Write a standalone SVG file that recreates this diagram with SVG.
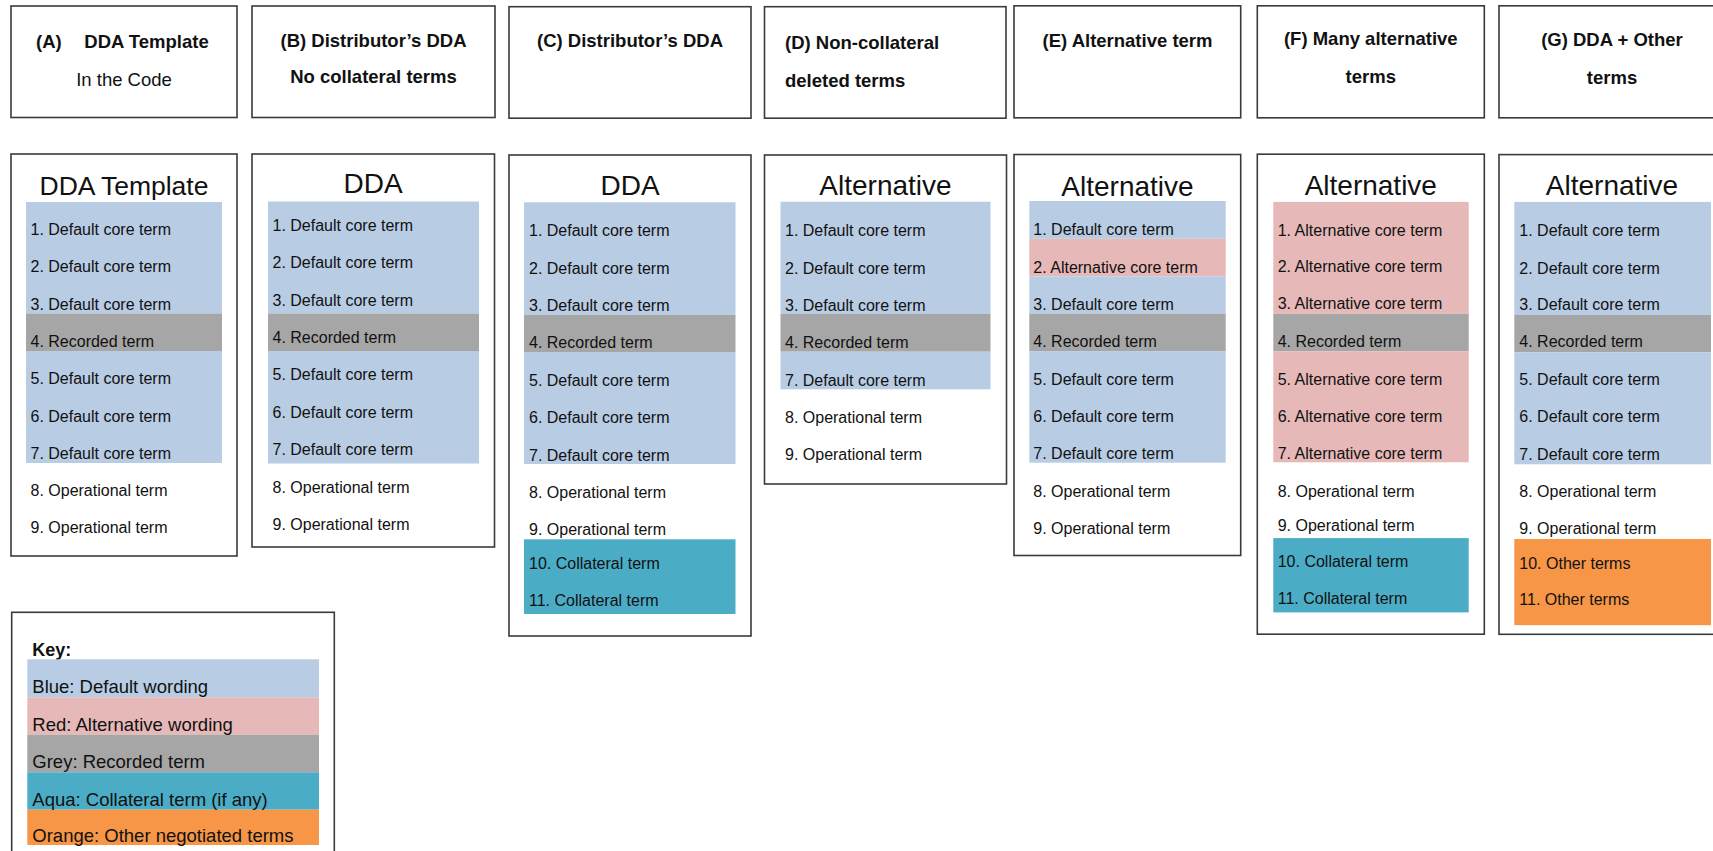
<svg xmlns="http://www.w3.org/2000/svg" width="1713" height="851" viewBox="0 0 1713 851">
  <style>
    .box { fill: #ffffff; stroke: #3a3a3a; stroke-width: 1.6; }
    .blue { fill: #b8cce4; }
    .red { fill: #e6b8b7; }
    .grey { fill: #a6a6a6; }
    .aqua { fill: #4bacc6; }
    .orange { fill: #f79646; }
    text { font-family: "Liberation Sans", Arial, sans-serif; fill: #111111; }
    .hd { font-size: 18.5px; font-weight: bold; }
    .hdr { font-size: 18.5px; }
    .ttl { font-size: 28px; text-anchor: middle; }
    .row { font-size: 16px; }
    .key { font-size: 18.5px; }
    .mid { text-anchor: middle; }
  </style>

  <!-- Header captions -->
  <g id="header-a">
    <rect class="box" x="11" y="6" width="226" height="111.5"/>
    <text class="hd" x="36" y="48.3">(A)</text>
    <text class="hd" x="84.3" y="48.3">DDA Template</text>
    <text class="hdr mid" x="124" y="86">In the Code</text>
  </g>
  <g id="header-b">
    <rect class="box" x="252" y="6" width="243" height="111.5"/>
    <text class="hd mid" x="373.5" y="46.7">(B) Distributor’s DDA</text>
    <text class="hd mid" x="373.5" y="82.5">No collateral terms</text>
  </g>
  <g id="header-c">
    <rect class="box" x="509" y="6.7" width="242" height="111.5"/>
    <text class="hd mid" x="630" y="46.7">(C) Distributor’s DDA</text>
  </g>
  <g id="header-d">
    <rect class="box" x="764.5" y="6.7" width="241.5" height="111.5"/>
    <text class="hd" x="785" y="49.3">(D) Non-collateral</text>
    <text class="hd" x="785" y="87.3">deleted terms</text>
  </g>
  <g id="header-e">
    <rect class="box" x="1014" y="5.8" width="226.7" height="112"/>
    <text class="hd mid" x="1127.5" y="46.5">(E) Alternative term</text>
  </g>
  <g id="header-f">
    <rect class="box" x="1257.3" y="5.8" width="227" height="112"/>
    <text class="hd mid" x="1370.8" y="44.8">(F) Many alternative</text>
    <text class="hd mid" x="1370.8" y="82.9">terms</text>
  </g>
  <g id="header-g">
    <rect class="box" x="1499" y="5.8" width="226" height="112"/>
    <text class="hd mid" x="1612" y="45.6">(G) DDA + Other</text>
    <text class="hd mid" x="1612" y="84.2">terms</text>
  </g>

  <!-- A: template -->
  <g id="panel-a">
    <rect class="box" x="11" y="154" width="226" height="402"/>
    <text class="ttl" x="124" y="195" style="font-size:26.5px">DDA Template</text>
    <rect class="blue" x="26" y="202" width="196" height="111.5"/>
    <rect class="grey" x="26" y="313.5" width="196" height="37.5"/>
    <rect class="blue" x="26" y="351" width="196" height="112"/>
    <text class="row" x="30.5" y="235">1. Default core term</text>
    <text class="row" x="30.5" y="272.3">2. Default core term</text>
    <text class="row" x="30.5" y="309.6">3. Default core term</text>
    <text class="row" x="30.5" y="346.9">4. Recorded term</text>
    <text class="row" x="30.5" y="384.2">5. Default core term</text>
    <text class="row" x="30.5" y="421.5">6. Default core term</text>
    <text class="row" x="30.5" y="458.8">7. Default core term</text>
    <text class="row" x="30.5" y="496.1">8. Operational term</text>
    <text class="row" x="30.5" y="533.4">9. Operational term</text>
  </g>

  <!-- B: distributor's DDA without collateral terms -->
  <g id="panel-b">
    <rect class="box" x="252" y="154" width="242.5" height="393"/>
    <text class="ttl" x="373" y="193">DDA</text>
    <rect class="blue" x="268" y="201.5" width="211" height="112"/>
    <rect class="grey" x="268" y="313.5" width="211" height="37.5"/>
    <rect class="blue" x="268" y="351" width="211" height="112.5"/>
    <text class="row" x="272.5" y="230.7">1. Default core term</text>
    <text class="row" x="272.5" y="268.1">2. Default core term</text>
    <text class="row" x="272.5" y="305.5">3. Default core term</text>
    <text class="row" x="272.5" y="342.9">4. Recorded term</text>
    <text class="row" x="272.5" y="380.3">5. Default core term</text>
    <text class="row" x="272.5" y="417.7">6. Default core term</text>
    <text class="row" x="272.5" y="455.1">7. Default core term</text>
    <text class="row" x="272.5" y="492.5">8. Operational term</text>
    <text class="row" x="272.5" y="529.9">9. Operational term</text>
  </g>

  <!-- C: distributor's DDA with collateral terms -->
  <g id="panel-c">
    <rect class="box" x="509" y="155" width="242" height="481"/>
    <text class="ttl" x="630" y="195">DDA</text>
    <rect class="blue" x="524" y="202.3" width="211.5" height="112.7"/>
    <rect class="grey" x="524" y="315" width="211.5" height="37"/>
    <rect class="blue" x="524" y="352" width="211.5" height="112"/>
    <rect class="aqua" x="524" y="539.3" width="211.5" height="74.7"/>
    <text class="row" x="529" y="236">1. Default core term</text>
    <text class="row" x="529" y="274">2. Default core term</text>
    <text class="row" x="529" y="310.7">3. Default core term</text>
    <text class="row" x="529" y="347.7">4. Recorded term</text>
    <text class="row" x="529" y="386">5. Default core term</text>
    <text class="row" x="529" y="422.7">6. Default core term</text>
    <text class="row" x="529" y="460.7">7. Default core term</text>
    <text class="row" x="529" y="497.7">8. Operational term</text>
    <text class="row" x="529" y="535">9. Operational term</text>
    <text class="row" x="529" y="569">10. Collateral term</text>
    <text class="row" x="529" y="606">11. Collateral term</text>
  </g>

  <!-- D: non-collateral terms deleted -->
  <g id="panel-d">
    <rect class="box" x="764.5" y="155" width="242" height="329"/>
    <text class="ttl" x="885.5" y="195">Alternative</text>
    <rect class="blue" x="780.5" y="201.7" width="210" height="112.3"/>
    <rect class="grey" x="780.5" y="314" width="210" height="37.7"/>
    <rect class="blue" x="780.5" y="351.7" width="210" height="37.6"/>
    <text class="row" x="785" y="236">1. Default core term</text>
    <text class="row" x="785" y="274">2. Default core term</text>
    <text class="row" x="785" y="310.7">3. Default core term</text>
    <text class="row" x="785" y="347.7">4. Recorded term</text>
    <text class="row" x="785" y="386">7. Default core term</text>
    <text class="row" x="785" y="422.7">8. Operational term</text>
    <text class="row" x="785" y="460">9. Operational term</text>
  </g>

  <!-- E: one alternative term -->
  <g id="panel-e">
    <rect class="box" x="1014" y="154.5" width="226.7" height="401"/>
    <text class="ttl" x="1127.5" y="196">Alternative</text>
    <rect class="blue" x="1029.3" y="201" width="196.4" height="37.8"/>
    <rect class="red" x="1029.3" y="238.8" width="196.4" height="37.5"/>
    <rect class="blue" x="1029.3" y="276.3" width="196.4" height="37.4"/>
    <rect class="grey" x="1029.3" y="313.7" width="196.4" height="37.4"/>
    <rect class="blue" x="1029.3" y="351.1" width="196.4" height="111.6"/>
    <text class="row" x="1033.3" y="234.5">1. Default core term</text>
    <text class="row" x="1033.3" y="272.6">2. Alternative core term</text>
    <text class="row" x="1033.3" y="309.7">3. Default core term</text>
    <text class="row" x="1033.3" y="347.1">4. Recorded term</text>
    <text class="row" x="1033.3" y="384.6">5. Default core term</text>
    <text class="row" x="1033.3" y="421.7">6. Default core term</text>
    <text class="row" x="1033.3" y="459.1">7. Default core term</text>
    <text class="row" x="1033.3" y="496.9">8. Operational term</text>
    <text class="row" x="1033.3" y="533.6">9. Operational term</text>
  </g>

  <!-- F: many alternative terms -->
  <g id="panel-f">
    <rect class="box" x="1257.3" y="154.2" width="227" height="480"/>
    <text class="ttl" x="1370.8" y="195">Alternative</text>
    <rect class="red" x="1273.3" y="201.9" width="195.4" height="111.9"/>
    <rect class="grey" x="1273.3" y="313.8" width="195.4" height="37.4"/>
    <rect class="red" x="1273.3" y="351.2" width="195.4" height="111.1"/>
    <rect class="aqua" x="1273.3" y="538.1" width="195.4" height="74.3"/>
    <text class="row" x="1277.7" y="235.5">1. Alternative core term</text>
    <text class="row" x="1277.7" y="272.4">2. Alternative core term</text>
    <text class="row" x="1277.7" y="309.3">3. Alternative core term</text>
    <text class="row" x="1277.7" y="347.4">4. Recorded term</text>
    <text class="row" x="1277.7" y="384.7">5. Alternative core term</text>
    <text class="row" x="1277.7" y="421.6">6. Alternative core term</text>
    <text class="row" x="1277.7" y="459.4">7. Alternative core term</text>
    <text class="row" x="1277.7" y="496.7">8. Operational term</text>
    <text class="row" x="1277.7" y="530.7">9. Operational term</text>
    <text class="row" x="1277.7" y="567.2">10. Collateral term</text>
    <text class="row" x="1277.7" y="604.1">11. Collateral term</text>
  </g>

  <!-- G: DDA plus other negotiated terms -->
  <g id="panel-g">
    <rect class="box" x="1499" y="154.6" width="226" height="479.7"/>
    <text class="ttl" x="1612" y="195">Alternative</text>
    <rect class="blue" x="1514.3" y="201.9" width="196.7" height="113.1"/>
    <rect class="grey" x="1514.3" y="315" width="196.7" height="37.4"/>
    <rect class="blue" x="1514.3" y="352.4" width="196.7" height="111.9"/>
    <rect class="orange" x="1514.3" y="539" width="196.7" height="86.2"/>
    <text class="row" x="1519.3" y="236.3">1. Default core term</text>
    <text class="row" x="1519.3" y="273.6">2. Default core term</text>
    <text class="row" x="1519.3" y="310">3. Default core term</text>
    <text class="row" x="1519.3" y="347.4">4. Recorded term</text>
    <text class="row" x="1519.3" y="384.7">5. Default core term</text>
    <text class="row" x="1519.3" y="422">6. Default core term</text>
    <text class="row" x="1519.3" y="460.2">7. Default core term</text>
    <text class="row" x="1519.3" y="496.7">8. Operational term</text>
    <text class="row" x="1519.3" y="534">9. Operational term</text>
    <text class="row" x="1519.3" y="568.8">10. Other terms</text>
    <text class="row" x="1519.3" y="605.3">11. Other terms</text>
  </g>

  <!-- Colour key -->
  <g id="key">
    <rect class="box" x="11.7" y="612.3" width="322.6" height="260"/>
    <text class="key" x="32.3" y="656" style="font-weight:bold;font-size:18px">Key:</text>
    <rect class="blue" x="27.3" y="659.3" width="291.7" height="38"/>
    <rect class="red" x="27.3" y="697.3" width="291.7" height="37.4"/>
    <rect class="grey" x="27.3" y="734.7" width="291.7" height="37.6"/>
    <rect class="aqua" x="27.3" y="772.3" width="291.7" height="37.4"/>
    <rect class="orange" x="27.3" y="809.7" width="291.7" height="35.3"/>
    <text class="key" x="32.3" y="693.3">Blue: Default wording</text>
    <text class="key" x="32.3" y="730.7">Red: Alternative wording</text>
    <text class="key" x="32.3" y="768.3">Grey: Recorded term</text>
    <text class="key" x="32.3" y="805.7">Aqua: Collateral term (if any)</text>
    <text class="key" x="32.3" y="842.3">Orange: Other negotiated terms</text>
  </g>
</svg>
